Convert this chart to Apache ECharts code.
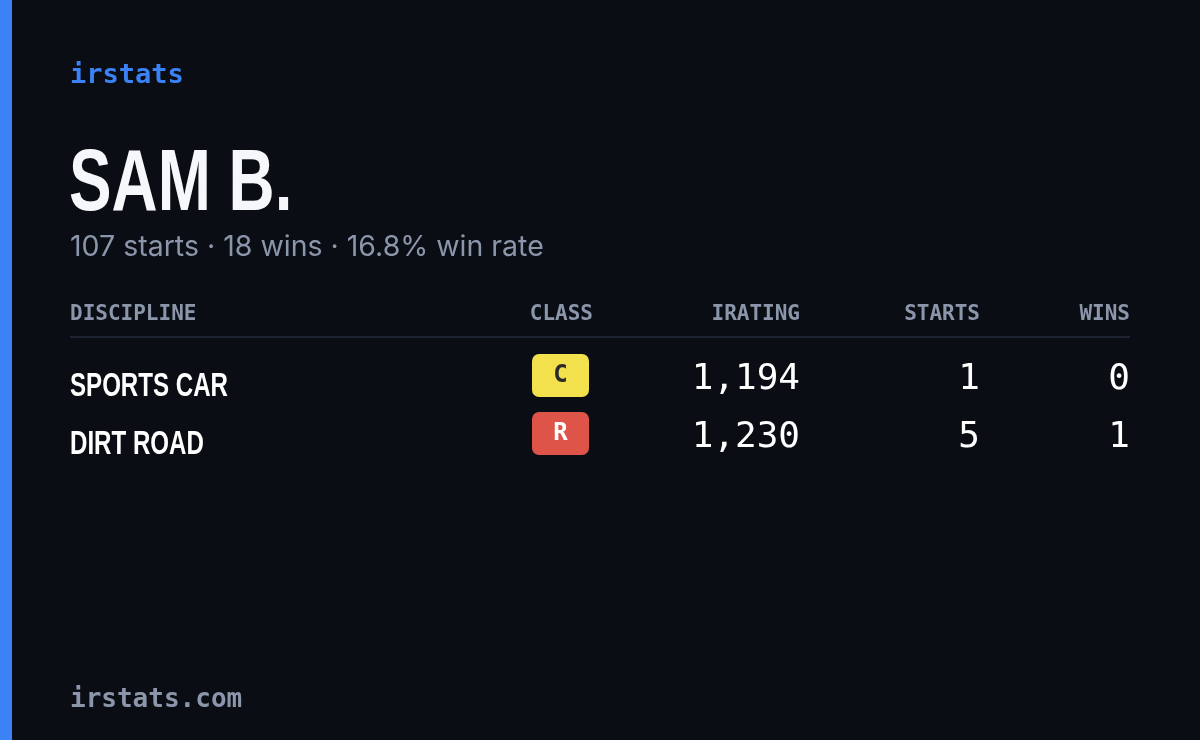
<!DOCTYPE html>
<html>
<head>
<meta charset="utf-8">
<script src="https://cdn.jsdelivr.net/npm/echarts@6/dist/echarts.min.js"></script>
<style>
  html, body { margin: 0; padding: 0; background: #0a0d14; }
  #card { width: 1200px; height: 740px; }
</style>
</head>
<body>
<div id="card"></div>
<script>
// data
var driverName = 'SAM B.';
var totalStarts = 107;
var totalWins = 18;
var winRate = '16.8%';
var headers = ['DISCIPLINE', 'CLASS', 'IRATING', 'STARTS', 'WINS'];
var disciplines = ['SPORTS CAR', 'DIRT ROAD'];
var classes = ['C', 'R'];
var iratings = [1194, 1230];
var starts = [1, 5];
var wins = [0, 1];

var classColors = { C: ['#f2e14c', '#2a2a2a'], R: ['#de5449', '#ffffff'] };
var mono = '"DejaVu Sans Mono", monospace';
var sans = 'Inter, "Noto Sans", sans-serif';
var cond = '"Liberation Sans", sans-serif';
var gray = '#8c96aa';

var chart = echarts.init(document.getElementById('card'));

var g = [
  { type: 'rect', shape: { x: 0, y: 0, width: 12, height: 740 }, style: { fill: '#3b82f6' } },
  { type: 'text', x: 70, y: 76, style: { text: 'irstats', font: 'bold 27px ' + mono, fill: '#3b82f6', textVerticalAlign: 'middle' } },
  { type: 'text', x: 69, y: 186, scaleX: 0.76, scaleY: 1.03, style: { text: driverName, font: 'bold 84px ' + cond, fill: '#f5f7fa', textVerticalAlign: 'middle' } },
  { type: 'text', x: 70, y: 247, style: { text: totalStarts + ' starts · ' + totalWins + ' wins · ' + winRate + ' win rate', font: '28.5px ' + sans, fill: gray, textVerticalAlign: 'middle' } },
  { type: 'line', shape: { x1: 70, y1: 337, x2: 1130, y2: 337 }, style: { stroke: '#1d2331', lineWidth: 2 } }
];

var headX = [70, 593, 800, 980, 1130];
var headAlign = ['left', 'right', 'right', 'right', 'right'];
headers.forEach(function (h, i) {
  g.push({ type: 'text', x: headX[i], y: 315, style: { text: h, font: 'bold 21px ' + mono, fill: gray, textAlign: headAlign[i], textVerticalAlign: 'middle' } });
});

var rowY = [380, 438];
disciplines.forEach(function (d, i) {
  var y = rowY[i];
  var c = classColors[classes[i]];
  g.push({ type: 'text', x: 70, y: y + 7, scaleX: 0.73, style: { text: d, font: 'bold 33px ' + cond, fill: '#ffffff', textVerticalAlign: 'middle' } });
  g.push({ type: 'rect', shape: { x: 532, y: y - 26, width: 57, height: 43, r: 7 }, style: { fill: c[0] } });
  g.push({ type: 'text', x: 560.5, y: y - 4, style: { text: classes[i], font: 'bold 24px ' + mono, fill: c[1], textAlign: 'center', textVerticalAlign: 'middle' } });
  g.push({ type: 'text', x: 800, y: y, style: { text: iratings[i].toLocaleString('en-US'), font: '36px ' + mono, fill: '#ffffff', textAlign: 'right', textVerticalAlign: 'middle' } });
  g.push({ type: 'text', x: 980, y: y, style: { text: String(starts[i]), font: '36px ' + mono, fill: '#ffffff', textAlign: 'right', textVerticalAlign: 'middle' } });
  g.push({ type: 'text', x: 1130, y: y, style: { text: String(wins[i]), font: '36px ' + mono, fill: '#ffffff', textAlign: 'right', textVerticalAlign: 'middle' } });
});

g.push({ type: 'text', x: 70, y: 700, style: { text: 'irstats.com', font: 'bold 26px ' + mono, fill: gray, textVerticalAlign: 'middle' } });

chart.setOption({ backgroundColor: '#0a0d14', animation: false, graphic: g });
</script>
</body>
</html>
